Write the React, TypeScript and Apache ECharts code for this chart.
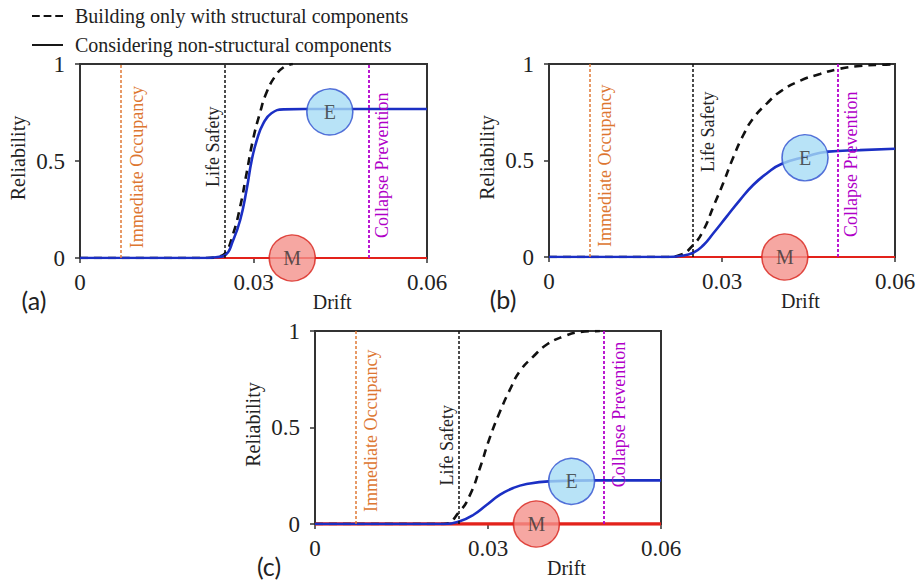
import React, { useEffect, useRef } from "react";
import * as echarts from "echarts";

// Drift limits of the performance levels
const LIMIT_NAMES = ["Immediate Occupancy", "Life Safety", "Collapse Prevention"];
const LIMIT_DRIFTS = [0.007, 0.025, 0.05];

const STRUCT_NAME = "Building only with structural components";
const NONSTRUCT_NAME = "Considering non-structural components";

// Panel (a)
const A_DRIFT_S = [0, 0.022, 0.0238, 0.0251, 0.0265, 0.0277, 0.0288, 0.0299, 0.0311, 0.0322, 0.0337, 0.0352, 0.0368];
const A_REL_S = [0, 0, 0.006, 0.024, 0.127, 0.265, 0.436, 0.608, 0.746, 0.849, 0.935, 0.983, 1.0];
const A_DRIFT_NS = [0, 0.0215, 0.0235, 0.0251, 0.0265, 0.0277, 0.0288, 0.0297, 0.0306, 0.0317, 0.0331, 0.0352, 0.0388, 0.045, 0.06];
const A_REL_NS = [0, 0, 0.004, 0.015, 0.093, 0.196, 0.35, 0.505, 0.61, 0.694, 0.746, 0.766, 0.768, 0.768, 0.768];
const A_M_DRIFT = [0, 0.06];
const A_M_REL = [0, 0];
const A_E_POINT = [0.0432, 0.753];
const A_M_POINT = [0.0367, 0];

// Panel (b)
const B_DRIFT_S = [0, 0.0204, 0.0227, 0.025, 0.0268, 0.0285, 0.0302, 0.032, 0.0337, 0.0354, 0.0378, 0.0401, 0.0436, 0.047, 0.0499, 0.0539, 0.0585, 0.06];
const B_REL_S = [0, 0, 0.01, 0.062, 0.14, 0.261, 0.382, 0.52, 0.632, 0.718, 0.796, 0.857, 0.914, 0.948, 0.972, 0.99, 0.997, 1.0];
const B_DRIFT_NS = [0, 0.0205, 0.0227, 0.025, 0.0268, 0.0285, 0.0308, 0.0331, 0.0354, 0.0378, 0.0403, 0.0445, 0.0484, 0.0539, 0.06];
const B_REL_NS = [0, 0, 0.005, 0.022, 0.062, 0.123, 0.209, 0.295, 0.373, 0.434, 0.482, 0.52, 0.546, 0.554, 0.561];
const B_M_DRIFT = [0, 0.06];
const B_M_REL = [0, 0];
const B_E_POINT = [0.0444, 0.514];
const B_M_POINT = [0.0409, 0];

// Panel (c)
const C_DRIFT_S = [0, 0.0222, 0.0251, 0.0269, 0.0286, 0.0303, 0.0321, 0.0338, 0.0355, 0.0379, 0.0402, 0.0431, 0.046, 0.0494];
const C_REL_S = [0, 0, 0.066, 0.152, 0.29, 0.446, 0.584, 0.696, 0.791, 0.869, 0.93, 0.972, 0.995, 1.0];
const C_DRIFT_NS = [0, 0.0225, 0.0251, 0.0275, 0.0298, 0.0321, 0.0344, 0.0367, 0.0405, 0.0486, 0.06];
const C_REL_NS = [0, 0, 0.014, 0.048, 0.1, 0.152, 0.187, 0.207, 0.221, 0.226, 0.226];
const C_M_DRIFT = [0, 0.06];
const C_M_REL = [0, 0];
const C_E_POINT = [0.0445, 0.221];
const C_M_POINT = [0.0384, 0];

const PANEL_TAGS = ["(a)", "(b)", "(c)"];
const X_TICKS = [0, 0.03, 0.06];
const X_TICK_LABELS = ["0", "0.03", "0.06"];
const Y_TICKS = [0, 0.5, 1];
const Y_TICK_LABELS = ["0", "0.5", "1"];
const X_TITLE = "Drift";
const Y_TITLE = "Reliability";

const zip = (xs: number[], ys: number[]) => xs.map((x, i) => [x, ys[i]]);

const PANELS = [
  { s: zip(A_DRIFT_S, A_REL_S), ns: zip(A_DRIFT_NS, A_REL_NS), m: zip(A_M_DRIFT, A_M_REL), e: A_E_POINT, mp: A_M_POINT },
  { s: zip(B_DRIFT_S, B_REL_S), ns: zip(B_DRIFT_NS, B_REL_NS), m: zip(B_M_DRIFT, B_M_REL), e: B_E_POINT, mp: B_M_POINT },
  { s: zip(C_DRIFT_S, C_REL_S), ns: zip(C_DRIFT_NS, C_REL_NS), m: zip(C_M_DRIFT, C_M_REL), e: C_E_POINT, mp: C_M_POINT },
];

// Layout
const GRIDS = [
  { left: 80, top: 64, width: 347, height: 194 },
  { left: 549, top: 64, width: 346, height: 193 },
  { left: 315, top: 331, width: 346, height: 193 },
];
const M_WIDTHS = [2, 2, 3.5];
// where each limit label starts (reliability units) and which side of its line it sits on
const LABEL_LAYOUT = [
  [{ start: 0.05, side: "right", gap: 8 }, { start: 0.366, side: "left", gap: 3 }, { start: 0.103, side: "right", gap: 4 }],
  [{ start: 0.052, side: "right", gap: 7 }, { start: 0.44, side: "right", gap: 6 }, { start: 0.104, side: "right", gap: 5 }],
  [{ start: 0.062, side: "right", gap: 7 }, { start: 0.2, side: "left", gap: 3 }, { start: 0.19, side: "right", gap: 7 }],
];
const X_TITLE_AT = 0.0436; // horizontal anchor of the x title, in drift units
const LIMIT_COLORS = ["#e07a36", "#111111", "#b300cc"];
const LIMIT_TEXT_COLORS = ["#dd7630", "#222222", "#b000c8"];

const SERIF = "Liberation Serif";
const TEXT_COLOR = "#222222";
const AXIS_COLOR = "#333333";
const TICK_FONT = 23;
const TITLE_FONT = 20;

// legend glyphs: three dashes, and a plain rule
const DASH_ICON = "path://M0,0h8v2h-8zM12,0h8v2h-8zM24,0h8v2h-8z";
const SOLID_ICON = "path://M0,0h32v2h-32z";

const serifText = (text: string, size: number, extra: any = {}) => ({
  text,
  fill: TEXT_COLOR,
  fontFamily: SERIF,
  fontSize: size,
  ...extra,
});

export default function App() {
  const ref = useRef<HTMLDivElement>(null);

  useEffect(() => {
    if (!ref.current) return;
    const chart = echarts.init(ref.current, null, { renderer: "svg" });

    const grid = GRIDS.map((g) => ({
      ...g,
      show: true,
      borderColor: AXIS_COLOR,
      borderWidth: 2,
      backgroundColor: "transparent",
      containLabel: false,
    }));

    const axisCommon = {
      type: "value",
      axisLine: { show: true, lineStyle: { color: AXIS_COLOR, width: 2 } },
      axisTick: { show: true, inside: false, length: 5, lineStyle: { color: AXIS_COLOR, width: 1.5 } },
      axisLabel: { show: false },
      splitLine: { show: false },
    };

    const xAxis = GRIDS.map((_, i) => ({
      ...axisCommon,
      gridIndex: i,
      min: X_TICKS[0],
      max: X_TICKS[X_TICKS.length - 1],
      interval: X_TICKS[1] - X_TICKS[0],
    }));

    const yAxis = GRIDS.map((_, i) => ({
      ...axisCommon,
      gridIndex: i,
      min: Y_TICKS[0],
      max: Y_TICKS[Y_TICKS.length - 1],
      interval: Y_TICKS[1] - Y_TICKS[0],
    }));

    const series: any[] = [];
    PANELS.forEach((p, i) => {
      // performance-level limits
      series.push({
        type: "line",
        xAxisIndex: i,
        yAxisIndex: i,
        data: [],
        silent: true,
        z: 1,
        markLine: {
          silent: true,
          precision: 4,
          symbol: ["none", "none"],
          label: { show: false },
          animation: false,
          data: LIMIT_DRIFTS.map((d, k) => ({
            xAxis: d,
            lineStyle: { color: LIMIT_COLORS[k], type: [3, 2], width: k === 2 ? 1.8 : 1.5 },
          })),
        },
      });
      series.push({
        name: "M",
        type: "line",
        xAxisIndex: i,
        yAxisIndex: i,
        data: p.m,
        showSymbol: false,
        symbol: "none",
        lineStyle: { color: "#e3221b", width: M_WIDTHS[i] },
        z: 2,
      });
      series.push({
        name: STRUCT_NAME,
        type: "line",
        xAxisIndex: i,
        yAxisIndex: i,
        data: p.s,
        symbol: "none",
        showSymbol: false,
        smooth: 0.5,
        lineStyle: { color: "#111111", width: 2.6, type: [8, 6] },
        itemStyle: { color: "#111111" },
        z: 3,
      });
      series.push({
        name: NONSTRUCT_NAME,
        type: "line",
        xAxisIndex: i,
        yAxisIndex: i,
        data: p.ns,
        symbol: "none",
        showSymbol: false,
        smooth: 0.5,
        lineStyle: { color: "#1b2fc4", width: 2.6 },
        itemStyle: { color: "#1b2fc4" },
        z: 4,
      });
      series.push({
        type: "scatter",
        xAxisIndex: i,
        yAxisIndex: i,
        clip: false,
        symbol: "circle",
        symbolSize: 46,
        z: 6,
        label: {
          show: true,
          position: "inside",
          formatter: "{b}",
          fontFamily: SERIF,
          fontSize: 20,
          color: "#333",
        },
        data: [
          { name: "E", value: p.e, itemStyle: { color: "#a6dcf5", borderColor: "#3050d0", borderWidth: 1.6 } },
          { name: "M", value: p.mp, itemStyle: { color: "#f4918b", borderColor: "#d8231c", borderWidth: 1.6 } },
        ],
      });
    });

    chart.setOption({
      animation: false,
      textStyle: { fontFamily: SERIF },
      legend: {
        orient: "vertical",
        left: 27,
        top: 1,
        itemWidth: 31,
        itemHeight: 2,
        itemGap: 9,
        selectedMode: false,
        itemStyle: { color: "#111111", borderWidth: 0 },
        textStyle: { fontFamily: SERIF, fontSize: 20, color: TEXT_COLOR, padding: [0, 0, 0, 7] },
        data: [
          { name: STRUCT_NAME, icon: DASH_ICON, itemStyle: { color: "#111111" } },
          { name: NONSTRUCT_NAME, icon: SOLID_ICON, itemStyle: { color: "#111111" } },
        ],
      },
      grid,
      xAxis,
      yAxis,
      series,
    });

    // tick labels, axis titles, limit labels and panel tags, placed from data coordinates
    const graphic: any[] = [];
    GRIDS.forEach((_, i) => {
      const px = (x: number, y: number) => chart.convertToPixel({ gridIndex: i }, [x, y]) as number[];
      const origin = px(X_TICKS[0], Y_TICKS[0]);
      const yMid = px(0, (Y_TICKS[0] + Y_TICKS[Y_TICKS.length - 1]) / 2)[1];

      X_TICKS.forEach((t, k) => {
        const p = px(t, Y_TICKS[0]);
        graphic.push({
          type: "text",
          x: p[0],
          y: p[1] + 13,
          z: 5,
          silent: true,
          style: serifText(X_TICK_LABELS[k], TICK_FONT, { align: "center", verticalAlign: "top" }),
        });
      });
      Y_TICKS.forEach((t, k) => {
        const p = px(X_TICKS[0], t);
        graphic.push({
          type: "text",
          x: p[0] - 15,
          y: p[1] - TICK_FONT / 2,
          z: 5,
          silent: true,
          style: serifText(Y_TICK_LABELS[k], TICK_FONT, { align: "right", verticalAlign: "top" }),
        });
      });
      graphic.push({
        type: "text",
        x: px(X_TITLE_AT, 0)[0],
        y: origin[1] + 34,
        z: 5,
        silent: true,
        style: serifText(X_TITLE, TITLE_FONT, { align: "center", verticalAlign: "top" }),
      });
      graphic.push({
        type: "text",
        x: origin[0] - 72,
        y: yMid - 3,
        rotation: Math.PI / 2,
        z: 5,
        silent: true,
        style: serifText(Y_TITLE, TITLE_FONT, { align: "center", verticalAlign: "top" }),
      });

      LIMIT_DRIFTS.forEach((d, k) => {
        const lay = LABEL_LAYOUT[i][k];
        const pt = px(d, lay.start);
        graphic.push({
          type: "text",
          x: pt[0] + (lay.side === "right" ? lay.gap : -lay.gap),
          y: pt[1],
          rotation: Math.PI / 2,
          z: 5,
          silent: true,
          style: serifText(LIMIT_NAMES[k], 18, {
            fill: LIMIT_TEXT_COLORS[k],
            align: "left",
            verticalAlign: lay.side === "right" ? "top" : "bottom",
          }),
        });
      });

      graphic.push({
        type: "text",
        x: origin[0] - 46,
        y: origin[1] + 42,
        z: 10,
        silent: true,
        style: {
          text: PANEL_TAGS[i],
          fill: TEXT_COLOR,
          fontFamily: "Lato",
          fontSize: 25,
          align: "center",
          verticalAlign: "middle",
        },
      });
    });
    chart.setOption({ graphic });

    return () => chart.dispose();
  }, []);

  return (
    <div
      ref={ref}
      style={{ position: "absolute", left: 0, top: 0, width: 917, height: 581, background: "#fff" }}
    />
  );
}
